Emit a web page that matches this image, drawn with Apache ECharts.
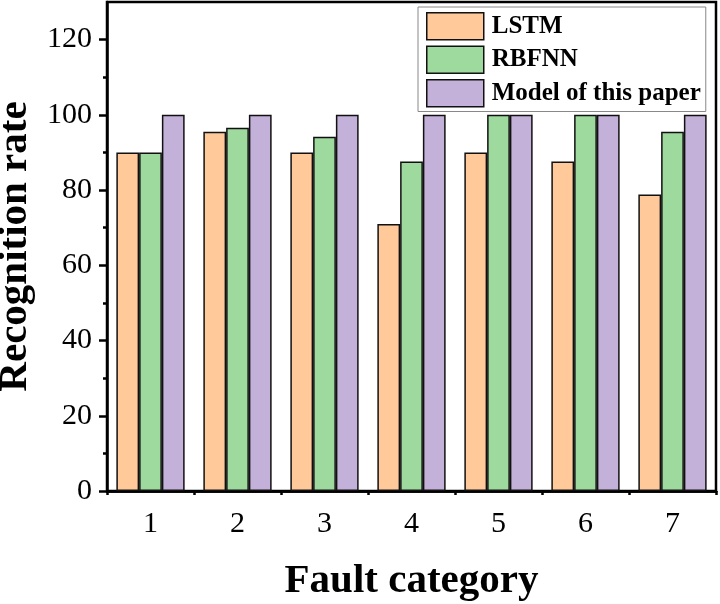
<!DOCTYPE html>
<html>
<head>
<meta charset="utf-8">
<script src="https://cdn.jsdelivr.net/npm/echarts@6/dist/echarts.min.js"></script>
<style>
  html, body { margin: 0; padding: 0; background: #fff; }
  #chart { width: 720px; height: 604px; }
</style>
</head>
<body>
<div id="chart"></div>
<script>
const categories = ['1', '2', '3', '4', '5', '6', '7'];
const lstm = [90, 95.5, 90, 71, 90, 87.6, 78.8];
const rbfnn = [90, 96.6, 94.2, 87.6, 100, 100, 95.5];
const ours = [100, 100, 100, 100, 100, 100, 100];
const yTicks = [0, 20, 40, 60, 80, 100, 120];
const yMinorTicks = [10, 30, 50, 70, 90, 110];

const serif = "'Liberation Serif', 'Times New Roman', serif";
const colors = ['#FFC99A', '#9ED99E', '#C3B1D9'];

const chart = echarts.init(document.getElementById('chart'));

const barStyle = (c) => ({ color: c, borderColor: '#111', borderWidth: 1.5 });

chart.setOption({
  animation: false,
  textStyle: { fontFamily: serif },
  grid: {
    left: 107, right: 4, top: 2, bottom: 113,
    outerBoundsMode: 'none',
    containLabel: false,
    show: true, borderColor: '#000', borderWidth: 2.5
  },
  legend: {
    orient: 'vertical',
    left: 418, top: 7,
    padding: [5, 5, 4, 8],
    itemWidth: 57, itemHeight: 27, itemGap: 5,
    icon: 'rect',
    itemStyle: { borderColor: '#111', borderWidth: 1.5 },
    borderColor: '#888', borderWidth: 1,
    textStyle: { fontFamily: serif, fontWeight: 'bold', fontSize: 25, color: '#000', padding: [0, 0, 0, 3] },
    data: ['LSTM', 'RBFNN', 'Model of this paper']
  },
  xAxis: [
    {
      type: 'category',
      data: categories,
      name: 'Fault category',
      nameLocation: 'middle',
      nameGap: 70,
      nameTextStyle: { fontFamily: serif, fontWeight: 'bold', fontSize: 41, color: '#000' },
      axisLine: { lineStyle: { color: '#000', width: 2.5 } },
      axisTick: { alignWithLabel: true, length: 8, lineStyle: { color: '#000', width: 2.5 } },
      axisLabel: { fontFamily: serif, fontSize: 30, color: '#000', margin: 18 }
    },
    {
      type: 'category',
      data: categories,
      position: 'bottom',
      axisLine: { show: true, lineStyle: { color: '#000', width: 2.5 } },
      axisTick: { show: true, length: 4, lineStyle: { color: '#000', width: 2.5 } },
      axisLabel: { show: false }
    }
  ],
  yAxis: [
    {
      type: 'value',
      min: 0, max: 130, interval: 20,
      name: 'Recognition rate',
      nameLocation: 'middle',
      nameGap: 56,
      nameTextStyle: { fontFamily: serif, fontWeight: 'bold', fontSize: 41, color: '#000' },
      splitLine: { show: false },
      axisLine: { show: true, lineStyle: { color: '#000', width: 2.5 } },
      axisTick: { show: true, length: 8, customValues: yTicks, lineStyle: { color: '#000', width: 2.5 } },
      axisLabel: { fontFamily: serif, fontSize: 30, color: '#000', margin: 15, customValues: yTicks }
    },
    {
      type: 'value',
      min: 0, max: 130,
      position: 'left',
      splitLine: { show: false },
      axisLine: { show: false },
      axisTick: { show: true, length: 4, customValues: yMinorTicks, lineStyle: { color: '#000', width: 2.5 } },
      axisLabel: { show: false, customValues: yMinorTicks }
    }
  ],
  series: [
    { name: 'LSTM', type: 'bar', data: lstm, barGap: 0, barCategoryGap: '21.5%', itemStyle: barStyle(colors[0]) },
    { name: 'RBFNN', type: 'bar', data: rbfnn, barGap: 0, barCategoryGap: '21.5%', itemStyle: barStyle(colors[1]) },
    { name: 'Model of this paper', type: 'bar', data: ours, barGap: 0, barCategoryGap: '21.5%', itemStyle: barStyle(colors[2]) }
  ]
});
</script>
</body>
</html>
